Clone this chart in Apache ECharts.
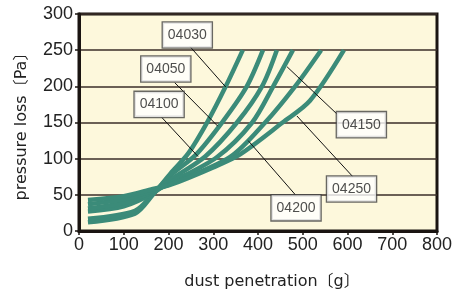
<!DOCTYPE html>
<html><head><meta charset="utf-8">
<script src="https://cdn.jsdelivr.net/npm/echarts@6/dist/echarts.min.js"></script>
<style>html,body{margin:0;padding:0;background:#fff}#c{width:457px;height:295px}</style>
</head><body><div id="c"></div>
<script>
const seriesNames = ['04030','04050','04100','04150','04200','04250'];
const c04030 = [[20,12],[125,24],[165,50],[205,80],[245,108],[288,152],[328,200],[366,250]];
const c04050 = [[20,17],[125,28],[165,51],[205,77],[262,106],[322,152],[375,200],[411,250]];
const c04100 = [[20,27],[100,34],[165,52],[205,71],[282,103],[353,150],[409,200],[442,250]];
const c04150 = [[20,31],[100,39],[165,54],[205,67],[308,102],[387,150],[434,200],[478,250]];
const c04200 = [[20,37],[100,44],[165,56],[205,65],[337,102],[416,150],[483,200],[541,250]];
const c04250 = [[20,43],[100,48],[165,58],[205,64],[300,88],[360,106],[455,150],[516,180],[592,250]];
const curves = [c04030,c04050,c04100,c04150,c04200,c04250];
// label box centres and leader lines (data coordinates)
const labelNames = ['04030','04050','04100','04150','04250','04200'];
const labelPos = [[242,271],[194,224],[179,175],[631,147],[609,58],[485,32]];
const leaders = [
  [[248,255],[328,199]],
  [[214,205],[310,145]],
  [[185,157],[266,103]],
  [[465,227],[576,162]],
  [[487,159],[612,75]],
  [[378,125],[485,49]]
];
const xTicks = [0,100,200,300,400,500,600,700,800];
const yTicks = [0,50,100,150,200,250,300];

const chart = echarts.init(document.getElementById('c'));
const series = [];
curves.forEach((d,i)=>{
  series.push({type:'line',name:seriesNames[i],data:d,smooth:0.3,symbol:'none',
    lineStyle:{color:'#3b8b79',width:4.5},z:3});
});
leaders.forEach((d,i)=>{
  series.push({type:'line',data:d,symbol:'none',smooth:false,
    lineStyle:{color:'#111',width:1},z:4,silent:true});
});
series.push({type:'scatter',data:labelPos.map((p,i)=>({value:p,name:labelNames[i]})),
  symbolSize:0,z:6,
  label:{show:true,position:'inside',formatter:p=>p.name,
    fontFamily:'Liberation Sans, Arial, sans-serif',fontSize:14,color:'#222',
    backgroundColor:'#fff',borderColor:'#444',borderWidth:1.3,
    padding:[6,5,5,5]}});

const nameFont = 'DejaVu Sans, Noto Sans CJK JP, sans-serif';
chart.setOption({
  animation:false,
  grid:{left:79,right:20,top:14,bottom:62,show:true,backgroundColor:'#fdf8dc',borderColor:'#1a1411',borderWidth:3},
  xAxis:{type:'value',min:0,max:800,interval:100,
    name:'dust penetration〔g〕',nameLocation:'middle',nameGap:43,
    nameTextStyle:{fontFamily:nameFont,fontSize:16,color:'#222',padding:[0,0,0,28]},
    axisLine:{lineStyle:{color:'#1a1411',width:3}},
    axisTick:{show:true,length:4,lineStyle:{color:'#1a1411',width:1.5}},
    axisLabel:{fontFamily:'Liberation Sans, Arial, sans-serif',fontSize:18,color:'#222',margin:5,
      formatter:v=>xTicks.includes(v)?String(v):''},
    splitLine:{show:false}},
  yAxis:{type:'value',min:0,max:300,interval:50,
    name:'pressure loss〔Pa〕',nameLocation:'middle',nameGap:49,nameRotate:90,
    nameTextStyle:{fontFamily:nameFont,fontSize:16,color:'#222'},
    axisLine:{show:true,lineStyle:{color:'#1a1411',width:3}},
    axisTick:{show:true,length:4,lineStyle:{color:'#1a1411',width:1.5}},
    axisLabel:{fontFamily:'Liberation Sans, Arial, sans-serif',fontSize:18,color:'#222',margin:6,
      formatter:v=>yTicks.includes(v)?String(v):''},
    splitLine:{show:true,lineStyle:{color:'#3a2e28',width:1.5}}},
  series:series
});
</script></body></html>
